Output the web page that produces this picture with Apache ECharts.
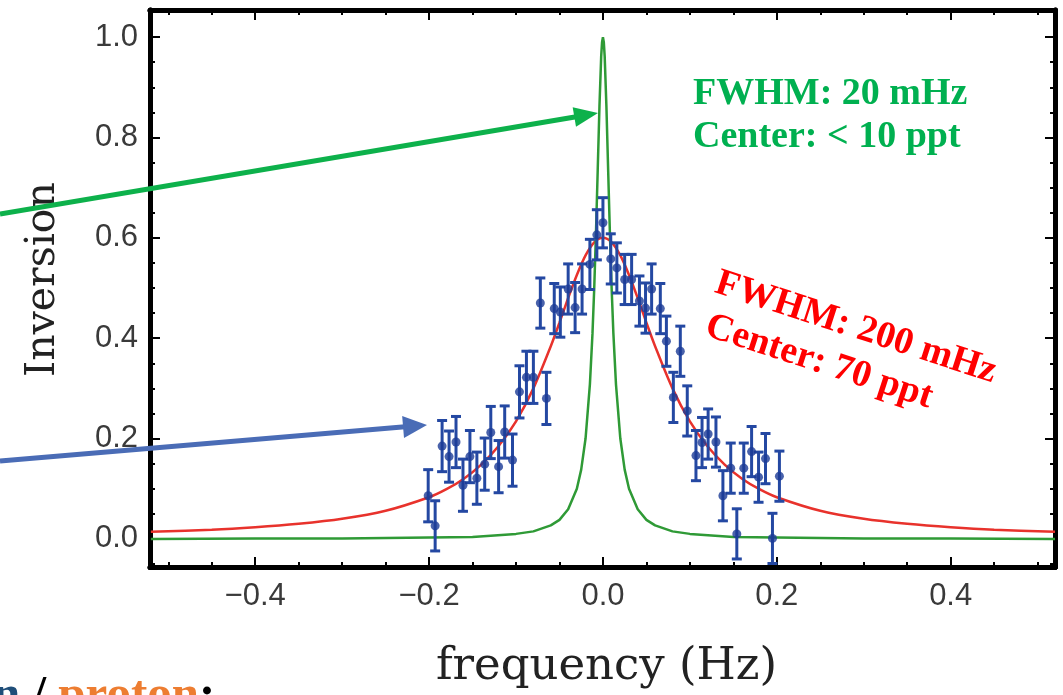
<!DOCTYPE html>
<html><head><meta charset="utf-8">
<script src="https://cdn.jsdelivr.net/npm/echarts@6/dist/echarts.min.js"></script>
<style>html,body{margin:0;padding:0;background:#fff;overflow:hidden}#c{width:1063px;height:695px}</style>
</head><body><div id="c"></div>
<script>
// ---- data ----
const freq = [-0.201,-0.193,-0.185,-0.177,-0.169,-0.161,-0.153,-0.145,-0.136,-0.129,-0.120,-0.113,-0.104,-0.096,-0.088,-0.080,-0.072,-0.065,-0.056,-0.049,-0.040,-0.032,-0.024,-0.015,-0.007,0.000,0.009,0.016,0.025,0.033,0.042,0.049,0.056,0.066,0.073,0.081,0.089,0.097,0.107,0.114,0.121,0.130,0.138,0.147,0.154,0.162,0.171,0.179,0.187,0.195,0.203];
const inversion = [0.086,0.026,0.185,0.164,0.193,0.107,0.164,0.121,0.149,0.212,0.144,0.213,0.157,0.293,0.322,0.322,0.470,0.280,0.459,0.452,0.498,0.461,0.498,0.547,0.606,0.630,0.558,0.540,0.517,0.517,0.474,0.460,0.498,0.459,0.394,0.282,0.374,0.255,0.166,0.192,0.209,0.193,0.086,0.141,0.010,0.141,0.174,0.123,0.160,0.001,0.125];
const inversionErr = [0.052,0.050,0.051,0.051,0.051,0.052,0.052,0.052,0.052,0.052,0.052,0.052,0.052,0.052,0.052,0.052,0.050,0.052,0.050,0.050,0.050,0.050,0.050,0.050,0.050,0.050,0.050,0.050,0.050,0.050,0.050,0.050,0.050,0.050,0.050,0.050,0.050,0.050,0.050,0.050,0.050,0.050,0.050,0.050,0.050,0.050,0.050,0.050,0.050,0.050,0.050];

const redFreq = [-0.52,-0.45,-0.40,-0.35,-0.30,-0.25,-0.20,-0.18,-0.16,-0.14,-0.12,-0.10,-0.08,-0.06,-0.05,-0.04,-0.03,-0.02,-0.01,0.00,0.01,0.02,0.03,0.04,0.05,0.06,0.08,0.10,0.12,0.14,0.16,0.18,0.20,0.25,0.30,0.35,0.40,0.45,0.52];
const redInv  = [0.014,0.018,0.023,0.030,0.040,0.056,0.083,0.099,0.120,0.148,0.185,0.234,0.300,0.384,0.431,0.480,0.526,0.565,0.591,0.600,0.591,0.565,0.526,0.480,0.431,0.384,0.300,0.234,0.185,0.148,0.120,0.099,0.083,0.056,0.040,0.030,0.023,0.018,0.014];

const greenFreq = [-0.52,-0.40,-0.30,-0.20,-0.15,-0.10,-0.08,-0.06,-0.05,-0.04,-0.03,-0.025,-0.02,-0.015,-0.012,-0.010,-0.008,-0.006,-0.004,-0.002,-0.001,0.000,0.001,0.002,0.004,0.006,0.008,0.010,0.012,0.015,0.02,0.025,0.03,0.04,0.05,0.06,0.08,0.10,0.15,0.20,0.30,0.40,0.52];
const greenInv  = [0.000,0.001,0.001,0.003,0.004,0.010,0.015,0.027,0.038,0.059,0.100,0.138,0.200,0.308,0.410,0.500,0.610,0.735,0.862,0.962,0.990,1.000,0.990,0.962,0.862,0.735,0.610,0.500,0.410,0.308,0.200,0.138,0.100,0.059,0.038,0.027,0.015,0.010,0.004,0.003,0.001,0.001,0.000];

const xMajor = [-0.4,-0.2,0.0,0.2,0.4];
const xMinor = [-0.5,-0.45,-0.35,-0.3,-0.25,-0.15,-0.1,-0.05,0.05,0.1,0.15,0.25,0.3,0.35,0.45,0.5];
const yMajor = [0.0,0.2,0.4,0.6,0.8,1.0];
const yMinor = [-0.05,0.05,0.1,0.15,0.25,0.3,0.35,0.45,0.5,0.55,0.65,0.7,0.75,0.85,0.9,0.95,1.05];

const X_MIN = -0.521, X_MAX = 0.52, Y_MIN = -0.056, Y_MAX = 1.054;

// ---- chart ----
const chart = echarts.init(document.getElementById('c'));
const fmt = v => (v < -1e-9 ? '\u2212' : '') + Math.abs(v).toFixed(1);
const labelStyle = {fontFamily:'Liberation Sans, Arial', fontSize:31, color:'#3a3a3a'};

function mkAxis(kind, pos, ticks, len, withLabels, extra) {
  const a = {
    type:'value', position:pos,
    min: kind==='x'?X_MIN:Y_MIN, max: kind==='x'?X_MAX:Y_MAX,
    axisLine:{show:true, onZero:false, lineStyle:{color:'#000', width:5}},
    axisTick:{show:true, inside:true, length:len, customValues:ticks, lineStyle:{color:'#000', width:2}},
    axisLabel: withLabels ? Object.assign({show:true, customValues: kind==='x'?xMajor:yMajor, formatter:fmt, margin: kind==='x'?14:12}, labelStyle) : {show:false},
    splitLine:{show:false}
  };
  return Object.assign(a, extra||{});
}

const option = {
  animation:false,
  backgroundColor:'#fff',
  grid:{left:150, top:10, right:8, bottom:127, containLabel:false},
  xAxis:[
    mkAxis('x','bottom',xMajor,10,true,{name:'frequency (Hz)', nameLocation:'middle', nameGap:78,
      nameTextStyle:{fontFamily:'DejaVu Serif', fontSize:45, color:'#222', padding:[0,0,0,8]}}),
    mkAxis('x','bottom',xMinor,5,false),
    mkAxis('x','top',xMajor,10,false),
    mkAxis('x','top',xMinor,5,false)
  ],
  yAxis:[
    mkAxis('y','left',yMajor,10,true,{name:'Inversion', nameLocation:'middle', nameRotate:90, nameGap:86,
      nameTextStyle:{fontFamily:'DejaVu Serif', fontSize:41, color:'#222', padding:[0,0,0,18]}}),
    mkAxis('y','left',yMinor,5,false),
    mkAxis('y','right',yMajor,10,false),
    mkAxis('y','right',yMinor,5,false)
  ],
  series:[
    {type:'line', name:'wide fit', xAxisIndex:0, yAxisIndex:0, data:redFreq.map((x,i)=>[x,redInv[i]]), smooth:0.3, showSymbol:false, symbol:'none', lineStyle:{color:'#e8322c', width:2.5}, z:2},
    {type:'line', name:'narrow', xAxisIndex:0, yAxisIndex:0, data:greenFreq.map((x,i)=>[x,greenInv[i]]), smooth:false, showSymbol:false, symbol:'none', lineStyle:{color:'#2f9a36', width:2.5}, z:3},
    {type:'custom', name:'error', xAxisIndex:0, yAxisIndex:0, z:4,
      data: freq.map((x,i)=>[x, inversion[i]-inversionErr[i], inversion[i]+inversionErr[i]]),
      renderItem:(params, api) => {
        const x = api.value(0);
        const lo = api.coord([x, api.value(1)]);
        const hi = api.coord([x, api.value(2)]);
        const w = 5;
        const st = {stroke:'#2448a2', lineWidth:3, fill:null};
        return {type:'group', children:[
          {type:'line', shape:{x1:lo[0],y1:lo[1],x2:hi[0],y2:hi[1]}, style:st},
          {type:'line', shape:{x1:lo[0]-w,y1:lo[1],x2:lo[0]+w,y2:lo[1]}, style:st},
          {type:'line', shape:{x1:hi[0]-w,y1:hi[1],x2:hi[0]+w,y2:hi[1]}, style:st}
        ]};
      },
      encode:{x:0, y:[1,2]}
    },
    {type:'scatter', name:'data', xAxisIndex:0, yAxisIndex:0, z:5, data:freq.map((x,i)=>[x,inversion[i]]), symbol:'circle', symbolSize:9, itemStyle:{color:'#1c3b96'}}
  ]
};
chart.setOption(option);

// ---- annotations ----
function arrow(x0,y0,x1,y1,color,w,hl,hw){
  const dx=x1-x0, dy=y1-y0, L=Math.hypot(dx,dy), ux=dx/L, uy=dy/L;
  const bx=x1-ux*hl, by=y1-uy*hl, px=-uy, py=ux;
  return [
    {type:'line', shape:{x1:x0,y1:y0,x2:bx+ux*2,y2:by+uy*2}, style:{stroke:color,lineWidth:w}, z:100},
    {type:'polygon', shape:{points:[[x1,y1],[bx+px*hw,by+py*hw],[bx-px*hw,by-py*hw]]}, style:{fill:color}, z:100}
  ];
}
const annFont = 'bold 38px "Liberation Serif", serif';
const botFont = 'bold 49px "Liberation Serif", serif';
chart.setOption({graphic:[].concat(
  arrow(0,214,598,113,'#0db14b',5,24,10),
  arrow(0,461,427,425,'#4a6cb6',5,24,11),
  [
    {type:'text', x:693, y:75, style:{text:'FWHM: 20 mHz', font:annFont, fill:'#00b050', textAlign:'left', textVerticalAlign:'top'}, z:100},
    {type:'text', x:693, y:118, style:{text:'Center: < 10 ppt', font:annFont, fill:'#00b050', textAlign:'left', textVerticalAlign:'top'}, z:100},
    {type:'group', x:713, y:293, rotation:-0.314, z:100, children:[
      {type:'text', x:0, y:8, style:{text:'FWHM: 200 mHz', font:annFont, fill:'#ff0000', textAlign:'left', textVerticalAlign:'bottom'}},
      {type:'text', x:4, y:52, style:{text:'Center: 70 ppt', font:annFont, fill:'#ff0000', textAlign:'left', textVerticalAlign:'bottom'}}
    ]},
    {type:'text', x:-7, y:672, z:100, style:{
      text:'{b|n} / {o|proton}:', font:botFont, fill:'#000', textAlign:'left', textVerticalAlign:'top',
      rich:{b:{fill:'#1f4e79', font:botFont}, o:{fill:'#ed7d31', font:botFont}}
    }}
  ]
)});
</script></body></html>
